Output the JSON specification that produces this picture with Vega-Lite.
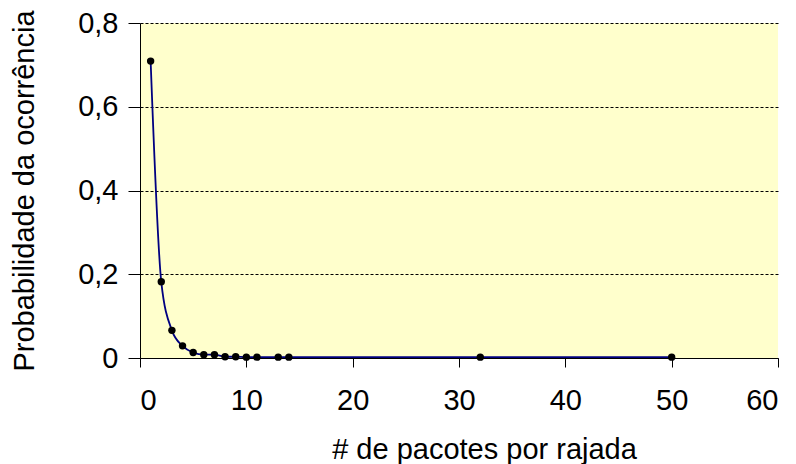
{
  "$schema": "https://vega.github.io/schema/vega-lite/v6.json",
  "width": 638,
  "height": 335,
  "autosize": "none",
  "padding": {"left": 140, "top": 23, "right": 18, "bottom": 106},
  "background": "white",
  "config": {
    "view": {"fill": "#FFFFCC", "stroke": null},
    "font": "Liberation Sans",
    "axis": {
      "domainColor": "black",
      "domainWidth": 1,
      "tickColor": "black",
      "tickWidth": 1,
      "labelColor": "black",
      "titleColor": "black",
      "labelFontSize": 29,
      "titleFontSize": 29,
      "titleFontWeight": "normal",
      "zindex": 1
    }
  },
  "data": {
    "values": [
      {"pacotes": 1, "prob": 0.709},
      {"pacotes": 2, "prob": 0.182},
      {"pacotes": 3, "prob": 0.066},
      {"pacotes": 4, "prob": 0.029},
      {"pacotes": 5, "prob": 0.013},
      {"pacotes": 6, "prob": 0.008},
      {"pacotes": 7, "prob": 0.008},
      {"pacotes": 8, "prob": 0.003},
      {"pacotes": 9, "prob": 0.003},
      {"pacotes": 10, "prob": 0.002},
      {"pacotes": 11, "prob": 0.002},
      {"pacotes": 13, "prob": 0.002},
      {"pacotes": 14, "prob": 0.002},
      {"pacotes": 32, "prob": 0.002},
      {"pacotes": 50, "prob": 0.002}
    ]
  },
  "encoding": {
    "x": {
      "field": "pacotes",
      "type": "quantitative",
      "scale": {"domain": [0, 60], "nice": false},
      "axis": {
        "values": [0, 10, 20, 30, 40, 50, 60],
        "title": "# de pacotes por rajada",
        "grid": false,
        "tickSize": 9,
        "labelPadding": 19,
        "titlePadding": 20,
        "titleX": 344
      }
    },
    "y": {
      "field": "prob",
      "type": "quantitative",
      "scale": {"domain": [0, 0.8], "nice": false},
      "axis": {
        "values": [0, 0.2, 0.4, 0.6, 0.8],
        "labelExpr": "datum.value == 0 ? '0' : replace(format(datum.value, '.1f'), '.', ',')",
        "title": "Probabilidade da ocorrência",
        "grid": true,
        "gridColor": "black",
        "gridDash": [3, 2],
        "gridWidth": 1,
        "tickSize": 12,
        "labelPadding": 10,
        "titlePadding": 38
      }
    }
  },
  "layer": [
    {
      "mark": {"type": "line", "interpolate": "monotone", "color": "#000080", "strokeWidth": 1.8}
    },
    {
      "mark": {"type": "point", "filled": true, "color": "black", "opacity": 1, "size": 55}
    }
  ]
}
